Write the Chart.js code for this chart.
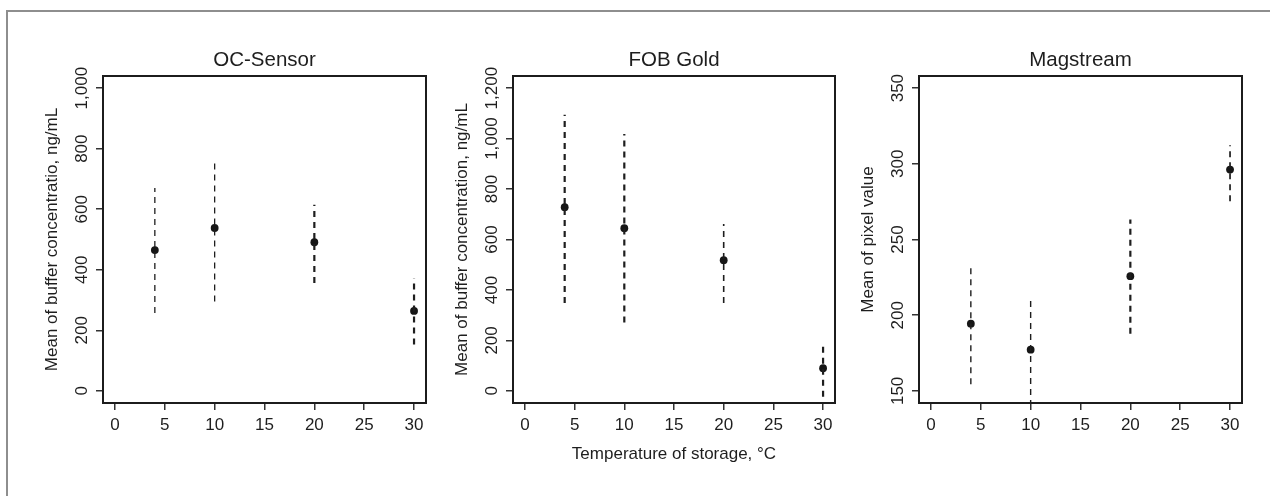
<!DOCTYPE html>
<html>
<head>
<meta charset="utf-8">
<script src="https://cdn.jsdelivr.net/npm/chart.js@4.4.1/dist/chart.umd.min.js"></script>
<style>
  html, body { margin: 0; padding: 0; background: #fff; }
  body { width: 1270px; height: 496px; position: relative; overflow: hidden; }
  .frame {
    position: absolute; left: 6px; top: 10px; width: 1290px; height: 510px;
    border-left: 2px solid #8e8e8e; border-top: 2px solid #8e8e8e;
  }
  canvas { position: absolute; top: 0; }
  #c1 { left: 0; }
  #c2 { left: 440px; }
  #c3 { left: 850px; }
</style>
</head>
<body>
<div class="frame"></div>
<canvas id="c1" width="440" height="496"></canvas>
<canvas id="c2" width="410" height="496"></canvas>
<canvas id="c3" width="420" height="496"></canvas>
<script>
(function () {
  'use strict';

  // storage temperatures (°C) and x tick labels, shared by all panels
  var temps = [4, 10, 20, 30];
  var xTicks = [0, 5, 10, 15, 20, 25, 30];

  // OC-Sensor
  var ocMean = [465, 538, 491, 264];
  var ocLow = [257, 295, 356, 153];
  var ocHigh = [670, 758, 615, 372];
  var ocTicks = [0, 200, 400, 600, 800, 1000];

  // FOB Gold
  var fobMean = [728, 645, 518, 90];
  var fobLow = [348, 271, 348, -23];
  var fobHigh = [1094, 1018, 661, 195];
  var fobTicks = [0, 200, 400, 600, 800, 1000, 1200];

  // Magstream
  var magMean = [194.4, 177.2, 225.8, 296.2];
  var magLow = [154.4, 140, 187.8, 275.3];
  var magHigh = [231.3, 211.1, 263.2, 312.2];
  var magTicks = [150, 200, 250, 300, 350];

  var FONT = '"Liberation Sans", Arial, Helvetica, sans-serif';
  var INK = '#1e1e1e';
  var TICK_SIZE = 17;

  function fmt(v) { return Number(v).toLocaleString('en-US'); }

  // width of the widest y label, used to centre the rotated labels on the tick
  function widestLabel(ticks) {
    var c = document.createElement('canvas').getContext('2d');
    c.font = TICK_SIZE + 'px ' + FONT;
    var w = 0;
    ticks.forEach(function (t) { w = Math.max(w, c.measureText(fmt(t)).width); });
    return w;
  }

  // R-style box around the plotting region
  var boxPlugin = {
    id: 'plotBox',
    afterDatasetsDraw: function (chart) {
      var a = chart.chartArea, ctx = chart.ctx;
      ctx.save();
      ctx.strokeStyle = '#1c1c1c';
      ctx.lineWidth = 2;
      ctx.strokeRect(a.left, a.top, a.right - a.left, a.bottom - a.top);
      ctx.restore();
    }
  };

  function makePanel(cfg) {
    var datasets = [];
    temps.forEach(function (t, i) {
      datasets.push({
        data: [{ x: t, y: cfg.low[i] }, { x: t, y: cfg.high[i] }],
        showLine: true,
        borderColor: INK,
        borderWidth: cfg.widths[i],
        borderDash: [6, 5],
        pointRadius: 0
      });
    });
    datasets.push({
      data: temps.map(function (t, i) { return { x: t, y: cfg.mean[i] }; }),
      pointRadius: 3.9,
      pointBackgroundColor: '#161616',
      pointBorderWidth: 0
    });

    var tickFont = { family: FONT, size: TICK_SIZE };
    var gridOpts = { drawOnChartArea: false, drawTicks: true, tickLength: 7, color: '#333', lineWidth: 1.5 };

    return new Chart(document.getElementById(cfg.canvas).getContext('2d'), {
      type: 'scatter',
      data: { datasets: datasets },
      options: {
        responsive: false,
        animation: false,
        layout: { padding: { left: 0, right: cfg.padRight, top: 0, bottom: 23 } },
        plugins: {
          legend: { display: false },
          tooltip: { enabled: false },
          title: {
            display: true,
            text: cfg.title,
            fullSize: false,
            color: INK,
            font: { family: FONT, size: 20.5, weight: 'normal', lineHeight: 1.2 },
            padding: { top: 47.7, bottom: 3.7 }
          }
        },
        scales: {
          x: {
            type: 'linear',
            min: -1.2,
            max: 31.2,
            afterBuildTicks: function (s) { s.ticks = xTicks.map(function (v) { return { value: v }; }); },
            afterFit: function (s) { s.height = 70; },
            border: { display: false },
            grid: gridOpts,
            ticks: { color: INK, font: tickFont, padding: 5.6, autoSkip: false, maxRotation: 0, callback: fmt },
            title: {
              display: !!cfg.xTitle,
              text: cfg.xTitle || '',
              color: INK,
              font: tickFont,
              padding: { top: 0, bottom: 8 }
            }
          },
          y: {
            type: 'linear',
            min: cfg.yMin,
            max: cfg.yMax,
            afterBuildTicks: function (s) { s.ticks = cfg.yTicks.map(function (v) { return { value: v }; }); },
            afterFit: function (s) { s.width = cfg.yWidth; },
            border: { display: false },
            grid: gridOpts,
            ticks: {
              color: INK,
              font: tickFont,
              autoSkip: false,
              minRotation: 90,
              maxRotation: 90,
              crossAlign: 'center',
              padding: 14 - widestLabel(cfg.yTicks) / 2,
              callback: fmt
            },
            title: {
              display: true,
              text: cfg.yTitle,
              color: INK,
              font: tickFont,
              padding: { top: cfg.yTitlePad, bottom: 0 }
            }
          }
        }
      },
      plugins: [boxPlugin]
    });
  }

  makePanel({
    canvas: 'c1', title: 'OC-Sensor',
    yTitle: 'Mean of buffer concentratio, ng/mL',
    mean: ocMean, low: ocLow, high: ocHigh, widths: [1.3, 1.3, 2.2, 2.2],
    yMin: -40, yMax: 1040, yTicks: ocTicks,
    yWidth: 103, yTitlePad: 42.3, padRight: 14
  });

  makePanel({
    canvas: 'c2', title: 'FOB Gold',
    yTitle: 'Mean of buffer concentration, ng/mL',
    xTitle: 'Temperature of storage, °C',
    mean: fobMean, low: fobLow, high: fobHigh, widths: [2.2, 2.2, 1.6, 2.2],
    yMin: -48, yMax: 1248, yTicks: fobTicks,
    yWidth: 73, yTitlePad: 12.3, padRight: 15
  });

  makePanel({
    canvas: 'c3', title: 'Magstream',
    yTitle: 'Mean of pixel value',
    mean: magMean, low: magLow, high: magHigh, widths: [1.4, 1.4, 2.2, 1.7],
    yMin: 142, yMax: 358, yTicks: magTicks,
    yWidth: 69, yTitlePad: 8.3, padRight: 28
  });
})();
</script>
</body>
</html>
